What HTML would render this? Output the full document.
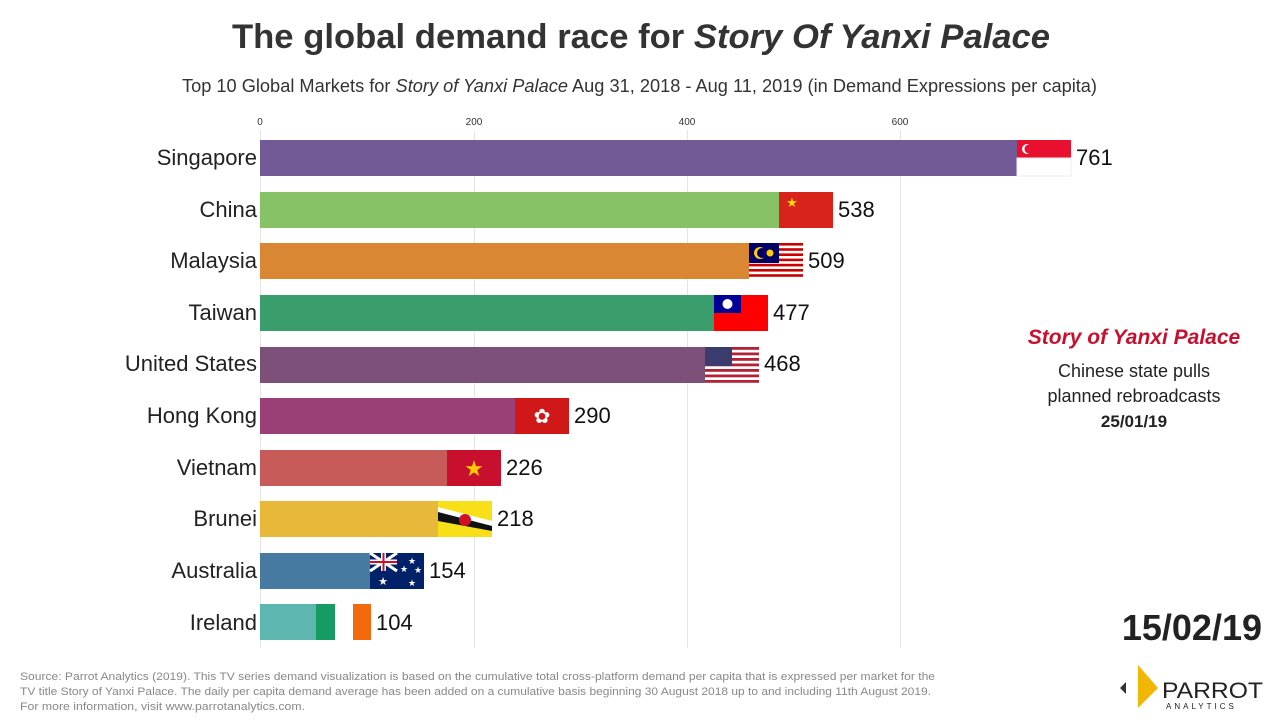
<!DOCTYPE html>
<html><head><meta charset="utf-8"><style>
html,body{margin:0;padding:0;background:#fff;width:1280px;height:720px;overflow:hidden}
svg{display:block;font-family:"Liberation Sans",sans-serif}
</style></head><body>
<svg width="1280" height="720" viewBox="0 0 1280 720">
<rect width="1280" height="720" fill="#fff"/>
<text x="232" y="48" font-size="34" font-weight="bold" fill="#333" textLength="818" lengthAdjust="spacingAndGlyphs">The global demand race for <tspan font-style="italic">Story Of Yanxi Palace</tspan></text>
<text x="182" y="92" font-size="18" fill="#333" textLength="915" lengthAdjust="spacingAndGlyphs">Top 10 Global Markets for <tspan font-style="italic">Story of Yanxi Palace</tspan> Aug  31, 2018 - Aug 11, 2019 (in Demand Expressions per capita)</text>
<g font-size="10" fill="#333" text-anchor="middle">
<text x="260" y="125">0</text><text x="474" y="125">200</text><text x="687" y="125">400</text><text x="900" y="125">600</text></g>
<g stroke="#e4e4e4" stroke-width="1">
<line x1="260.5" y1="130" x2="260.5" y2="648"/><line x1="474.5" y1="130" x2="474.5" y2="648"/><line x1="687.5" y1="130" x2="687.5" y2="648"/><line x1="900.5" y1="130" x2="900.5" y2="648"/></g>
<g font-size="22" fill="#222" text-anchor="end">
<text x="257" y="165">Singapore</text><text x="257" y="217">China</text><text x="257" y="268">Malaysia</text><text x="257" y="320">Taiwan</text><text x="257" y="371">United States</text><text x="257" y="423">Hong Kong</text><text x="257" y="475">Vietnam</text><text x="257" y="526">Brunei</text><text x="257" y="578">Australia</text><text x="257" y="630">Ireland</text></g>
<rect x="260" y="140" width="757" height="36" fill="#725a96"/>
<rect x="260" y="192" width="519" height="36" fill="#88c266"/>
<rect x="260" y="243" width="489" height="36" fill="#d98732"/>
<rect x="260" y="295" width="454" height="36" fill="#3a9e6c"/>
<rect x="260" y="347" width="445" height="36" fill="#7d5079"/>
<rect x="260" y="398" width="255" height="36" fill="#9a3f78"/>
<rect x="260" y="450" width="187" height="36" fill="#c65b59"/>
<rect x="260" y="501" width="178" height="36" fill="#e8b83a"/>
<rect x="260" y="553" width="110" height="36" fill="#467aa0"/>
<rect x="260" y="604" width="56" height="36" fill="#5db7b0"/>
<rect x="1017" y="140" width="54" height="18" fill="#e8102e"/><rect x="1017" y="158" width="54" height="18" fill="#fff" stroke="#eee"/>
<circle cx="1027" cy="149" r="5" fill="#fff"/><circle cx="1029" cy="149" r="4.5" fill="#e8102e"/>
<rect x="779" y="192" width="54" height="36" fill="#d8231a"/><text x="792" y="207" font-size="13" fill="#ffde00" text-anchor="middle">★</text>
<rect x="749" y="243" width="54" height="36" fill="#fff"/>
<g fill="#cc0000"><rect x="749" y="243" width="54" height="2.6"/><rect x="749" y="248.2" width="54" height="2.6"/><rect x="749" y="253.4" width="54" height="2.6"/><rect x="749" y="258.6" width="54" height="2.6"/><rect x="749" y="263.8" width="54" height="2.6"/><rect x="749" y="269" width="54" height="2.6"/><rect x="749" y="274.2" width="54" height="2.6"/></g>
<rect x="749" y="243" width="30" height="20" fill="#010066"/><circle cx="760" cy="253" r="6" fill="#fc0"/><circle cx="762" cy="253" r="5" fill="#010066"/><circle cx="770" cy="253" r="3.5" fill="#fc0"/>
<rect x="714" y="295" width="54" height="36" fill="#fe0000"/><rect x="714" y="295" width="27" height="18" fill="#000095"/><circle cx="727.5" cy="304" r="5" fill="#fff"/>
<rect x="705" y="347" width="54" height="36" fill="#fff"/>
<g fill="#b22234"><rect x="705" y="347" width="54" height="2.8"/><rect x="705" y="352.5" width="54" height="2.8"/><rect x="705" y="358" width="54" height="2.8"/><rect x="705" y="363.5" width="54" height="2.8"/><rect x="705" y="369" width="54" height="2.8"/><rect x="705" y="374.5" width="54" height="2.8"/><rect x="705" y="380" width="54" height="2.8"/></g>
<rect x="705" y="347" width="27" height="19" fill="#3c3b6e"/>
<rect x="515" y="398" width="54" height="36" fill="#d01818"/><text x="542" y="423" font-size="20" fill="#fff" text-anchor="middle">✿</text>
<rect x="447" y="450" width="54" height="36" fill="#c8102e"/><text x="474" y="476" font-size="22" fill="#ffcd00" text-anchor="middle">★</text>
<rect x="438" y="501" width="54" height="36" fill="#f7e017"/><polygon points="438,507 492,521 492,531 438,517" fill="#fff"/><polygon points="438,512 492,526 492,531 438,521" fill="#111"/><circle cx="465" cy="520" r="6" fill="#cf1126"/>
<rect x="370" y="553" width="54" height="36" fill="#012169"/>
<g stroke="#fff" stroke-width="3"><line x1="370" y1="553" x2="397" y2="571"/><line x1="397" y1="553" x2="370" y2="571"/><line x1="383.5" y1="553" x2="383.5" y2="571" stroke-width="5"/><line x1="370" y1="562" x2="397" y2="562" stroke-width="5"/></g>
<g stroke="#c8102e" stroke-width="2"><line x1="383.5" y1="553" x2="383.5" y2="571"/><line x1="370" y1="562" x2="397" y2="562"/></g>
<g fill="#fff" font-size="9" text-anchor="middle"><text x="383" y="585" font-size="11">★</text><text x="412" y="564">★</text><text x="404" y="572">★</text><text x="418" y="573">★</text><text x="412" y="586">★</text></g>
<rect x="316" y="604" width="19" height="36" fill="#169b62"/><rect x="335" y="604" width="18" height="36" fill="#fff"/><rect x="353" y="604" width="18" height="36" fill="#f26a0c"/>
<g font-size="22" fill="#111">
<text x="1076" y="165">761</text><text x="838" y="217">538</text><text x="808" y="268">509</text><text x="773" y="320">477</text><text x="764" y="371">468</text><text x="574" y="423">290</text><text x="506" y="475">226</text><text x="497" y="526">218</text><text x="429" y="578">154</text><text x="376" y="630">104</text></g>
<text x="1134" y="344" text-anchor="middle" font-size="21" font-weight="bold" font-style="italic" fill="#c8102e">Story of Yanxi Palace</text>
<text x="1134" y="377" text-anchor="middle" font-size="18" fill="#222">Chinese state pulls</text>
<text x="1134" y="402" text-anchor="middle" font-size="18" fill="#222">planned rebroadcasts</text>
<text x="1134" y="427" text-anchor="middle" font-size="17" font-weight="bold" fill="#222">25/01/19</text>
<text x="1262" y="640" text-anchor="end" font-size="36" font-weight="bold" fill="#222">15/02/19</text>
<g font-size="11" fill="#888" lengthAdjust="spacingAndGlyphs">
<text x="20" y="680" textLength="915" lengthAdjust="spacingAndGlyphs">Source: Parrot Analytics (2019). This TV series demand visualization is based on the cumulative total cross-platform demand per capita that is expressed per market for the</text>
<text x="20" y="695" textLength="911" lengthAdjust="spacingAndGlyphs">TV title Story of Yanxi Palace. The daily per capita demand average has been added on a cumulative basis beginning 30 August 2018 up to and including 11th August 2019.</text>
<text x="20" y="710" textLength="285" lengthAdjust="spacingAndGlyphs">For more information, visit www.parrotanalytics.com.</text></g>
<polygon points="1120,688 1126,682 1126,694" fill="#333"/>
<polygon points="1138,665 1158,688 1138,708" fill="#f2b705"/>
<text x="1162" y="698" font-size="22" fill="#222" textLength="101" lengthAdjust="spacingAndGlyphs">PARROT</text>
<text x="1166" y="709" font-size="8" fill="#222" letter-spacing="3">ANALYTICS</text>
</svg>
</body></html>
